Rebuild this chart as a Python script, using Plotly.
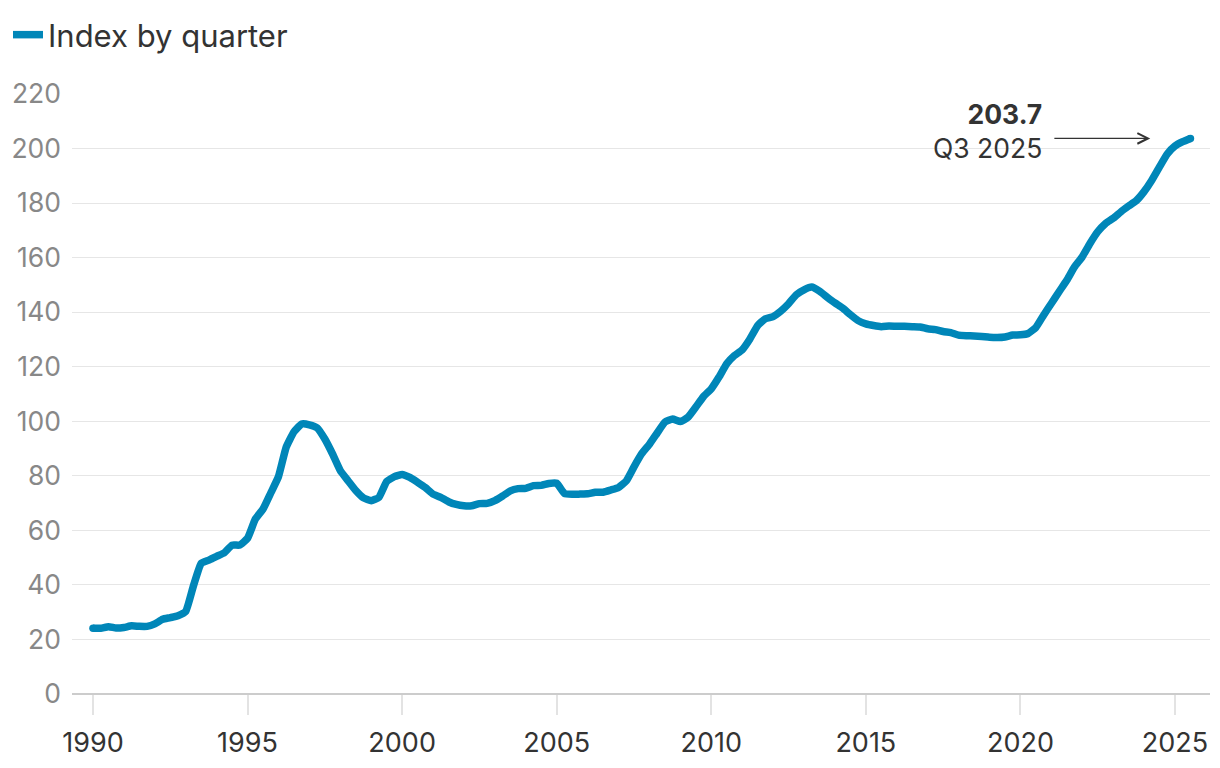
import plotly.graph_objects as go

# ---- data ----
start_year = 1990
series_name = "Index by quarter"
index_values = [
    24.1, 24.1, 24.7, 24.2, 24.4, 25.0, 24.8, 24.8, 25.7, 27.4,
    28.0, 28.7, 30.3, 39.7, 47.9, 49.1, 50.5, 51.8, 54.6, 54.6,
    57.1, 64.1, 67.8, 73.7, 79.7, 90.5, 96.1, 99.0, 98.7, 97.6,
    93.5, 88.0, 81.9, 78.2, 74.6, 71.9, 70.9, 72.1, 77.9, 79.7,
    80.5, 79.4, 77.6, 75.7, 73.3, 72.1, 70.5, 69.5, 69.0, 69.0,
    69.8, 69.9, 70.9, 72.6, 74.5, 75.3, 75.4, 76.4, 76.5, 77.2,
    77.3, 73.5, 73.2, 73.3, 73.4, 74.0, 74.0, 74.8, 75.7, 78.1,
    83.3, 88.1, 91.6, 95.7, 99.7, 100.8, 99.9, 101.5, 105.2, 109.1,
    111.9, 116.2, 121.1, 124.1, 126.2, 130.2, 135.1, 137.6, 138.4, 140.4,
    143.1, 146.4, 148.2, 149.2, 147.7, 145.5, 143.4, 141.5, 139.1, 136.9,
    135.7, 135.1, 134.7, 134.9, 134.8, 134.8, 134.7, 134.6, 133.9, 133.6,
    132.9, 132.5, 131.6, 131.4, 131.3, 131.1, 130.8, 130.7, 130.9, 131.6,
    131.7, 132.2, 134.4, 138.9, 143.2, 147.5, 151.7, 156.6, 160.3, 165.2,
    169.5, 172.5, 174.4, 176.8, 178.9, 180.9, 184.2, 188.4, 193.3, 198.0,
    200.9, 202.5, 203.7,
]
x_tick_vals = [1990, 1995, 2000, 2005, 2010, 2015, 2020, 2025]
x_tick_text = ["1990", "1995", "2000", "2005", "2010", "2015", "2020", "2025"]
y_tick_vals = [0, 20, 40, 60, 80, 100, 120, 140, 160, 180, 200, 220]
last_label_value = "203.7"
last_label_period = "Q3 2025"

x_years = [start_year + i / 4 for i in range(len(index_values))]

LINE = "#0086b8"
FONT = "Inter, 'Noto Sans', sans-serif"

fig = go.Figure()
fig.add_trace(go.Scatter(
    x=x_years, y=index_values, mode="lines", name=series_name,
    line=dict(color=LINE, width=7.5, shape="spline", smoothing=0.4),
    hoverinfo="skip",
))
# rounded line ends
fig.add_trace(go.Scatter(
    x=[x_years[0], x_years[-1]], y=[index_values[0], index_values[-1]],
    mode="markers", marker=dict(color=LINE, size=7.5, line=dict(width=0)),
    showlegend=False, hoverinfo="skip",
))

last_x = x_years[-1]
last_y = index_values[-1]

# arrow (no text) pointing toward last value
fig.add_annotation(
    x=last_x - 1.3, y=last_y, xref="x", yref="y",
    ax=last_x - 4.45, ay=last_y, axref="x", ayref="y",
    text="", showarrow=True, arrowhead=5, arrowsize=1.6, arrowwidth=1.3,
    arrowcolor="#333333",
)
# label text
fig.add_annotation(
    x=last_x - 4.74, y=last_y + 2.6, xref="x", yref="y",
    xanchor="right", yanchor="middle", align="right",
    text=f"<b>{last_label_value}</b><br>{last_label_period}",
    showarrow=False, font=dict(family=FONT, size=26.5, color="#333333"),
)

fig.update_layout(
    width=1220, height=768,
    margin=dict(l=64, r=18, t=86, b=82, autoexpand=False),
    paper_bgcolor="white", plot_bgcolor="white",
    font=dict(family=FONT, size=26, color="#333333"),
    showlegend=True,
    legend=dict(
        xref="container", yref="container", x=0.0, y=1.0,
        xanchor="left", yanchor="top", font=dict(size=31, color="#333333"),
        bgcolor="rgba(0,0,0,0)", borderwidth=0,
    ),
    xaxis=dict(
        range=[1989.321, 2026.133], tickvals=x_tick_vals, ticktext=x_tick_text,
        showgrid=False, zeroline=False, showline=False, automargin=False,
        ticks="outside", ticklen=20, tickwidth=2, tickcolor="#e3e3e3",
        ticklabelstandoff=5,
        tickfont=dict(size=27, color="#333333"),
    ),
    yaxis=dict(
        range=[0, 220], tickvals=y_tick_vals, automargin=False,
        showgrid=True, gridcolor="#e6e6e6", gridwidth=1.3,
        zeroline=True, zerolinecolor="#cccccc", zerolinewidth=2,
        showline=False, ticks="", ticklabelstandoff=10,
        tickfont=dict(size=26.5, color="#888888"),
    ),
)

fig.write_html("out.html")
